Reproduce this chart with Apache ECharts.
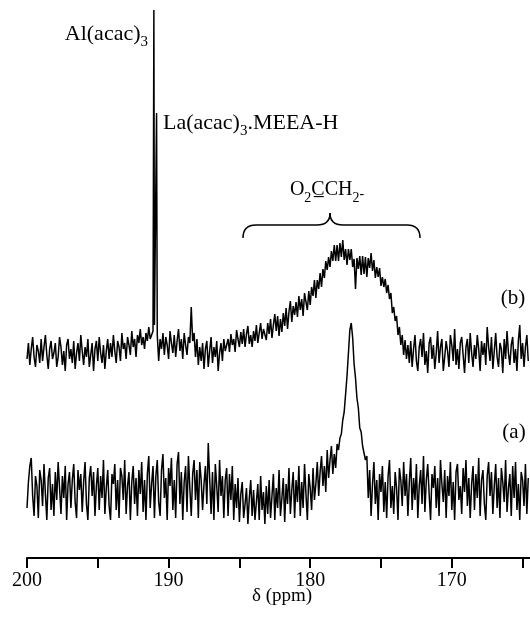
<!DOCTYPE html>
<html lang="en">
<head>
    <meta charset="utf-8">
    <title>13C NMR - O2CCH2 region</title>
    <script src="https://cdn.jsdelivr.net/npm/echarts/dist/echarts.min.js"></script>
    <style>
        html, body { margin: 0; padding: 0; background: #fff; }
        #chart { width: 530px; height: 627px; }
    </style>
</head>
<body>
    <div id="chart"></div>

    <script>
        // spectrum sampled every 0.1 ppm starting at 200 ppm
        var ppmStart = 200;
        var ppmStep = 0.1;

        // trace (b): intensity above its own baseline
        var traceB = [
            -6, 10, -12, 4, 16, -4, -14, 8, 2, -10, 14, -8, 6, 18, -2, -16, 4, 12, -6, 0,
            10, -14, -4, 16, 6, -12, 2, -18, 8, 14, -6, 4, -10, 12, -16, 0, 10, -8, 18, 2,
            -12, 6, -4, 14, -14, -2, 10, -18, 4, 12, -8, 16, 0, -10, 8, -16, 2, 14, -6, 10,
            -4, 18, 2, -10, 12, 6, -8, 20, 4, 10, -6, 16, 8, -2, 22, 6, 14, -4, 18, 10,
            24, 8, 16, 4, 20, 12, 26, 14, 18,
            22, 28, 30, 18,
            -8, 14, 4, 20, -2, 16, 8, -6, 22, 10, 0, 18, -4, 12, 24, 2, 14, -6, 20, 8,
            -2, 16, 10, 46, 12, 20, -4, 14, -12, 6, -8, 10, -16, 4, 12, -14, 2, 16, -10, 6,
            -4, 12, -18, 0, 10, -8, 14, 2, 8,
            // broad O2CCH2 hump
            14, 1, 19, 8, 14, 1, 23, 14, 6, 21, 9, 24, 6, 19, 27, 9, 18, 6,
            22, 12, 28, 10, 20, 30, 14, 24,
            26, 13, 30, 19, 34, 15, 28, 39, 22, 37, 17, 34,
            21, 40, 27, 45, 24, 41, 52, 31, 47, 38,
            51, 36, 57, 43, 54, 37, 60, 51, 43, 62,
            48, 66, 57, 73, 55, 73, 64, 80,
            66, 84, 75, 92, 83, 96,
            86, 102, 92, 108, 92, 108,
            92, 110, 96, 113, 93, 104,
            88, 104, 93, 104, 86, 94,
            64, 95, 84, 97, 78, 97,
            79, 96, 76, 95, 85, 100,
            82, 93, 75, 86,
            76, 85, 67, 76,
            66, 74, 60, 68,
            54, 60, 40, 46,
            32, 37, 18, 26,
            8, 18, -2, 13,
            -6, 8, -10,
            12, -14, 4, 18, -8, -18, 6, 14, -4, 20, -12, 2, -20, 10, 16, -6, 8, -16, 0, 22,
            -10, 6, 14, -18, -4, 12, 2, -14, 18, 8, -8, 24, -12, 4, -16, 10, 16, -2, -20, 6,
            14, -10, 20, 0, -14, 8, -6, 18, 4, -18, 12, -2, 10, -12, 26, 6, -8, 16, -16, 2,
            20, -4, -14, 10, 4, -20, 14, -6, 22, 0, -12, 8, 16, -10, 4, -18, 12, 28, -6, 10,
            -14, 6, 18, -8
        ];

        // sharp lines in (b): Al(acac)3 and La(acac)3.MEEA-H  [ppm, intensity]
        var sharpB = [[191.04, 343], [190.85, 240]];

        // trace (a)
        var traceA = [
            -18, 8, 24, 32, -6, -26, 14, 4, -28, 20, 10, -16, 26, -4, -30, 12, 22, -20, 6, -26,
            18, -10, 28, 2, -24, 14, -8, 24, -30, 6, 18, -18, 10, 26, -12, -28, 20, 0, 16, -22,
            8, 28, -14, -30, 12, 24, -6, 18, -26, 4, 22, -20, 14, -8, 30, -24, 2, 20, -16, -30,
            16, 6, 26, -20, 10, -28, 22, 14, -10, 30, -24, 4, 18, -30, 8, 24, -14, 12, -26, 20,
            -4, 28, -22, 10, -30, 16, 34, -18, 6, 24, -28, 14, 30, -12, -26, 20, 36, -8, 12, -30,
            22, 4, 32, -20, 10, -28, 26, 38, -14, 18, -30, 8, 24, -22, 34, 2, -26, 16, 30, -10,
            20, -28, 28, 10, -20, 6, 24, -14, 47, 12, -24, 18, -30, 26, 4, -22, 30, -6, 14, -28,
            10, 22,
            -26, 16, -10, 24, -30, 6, -18, 12, -32, -4, 8, -28, -14, 2, -34, -8, 10, -26, 0, -30,
            -12, 6, -30, 14, -20, -2, -34, 4, -24, 10, -28, -6, 16, -30, 2, -18, 20, -26, -8, 12,
            -32, 6, -14, 22, -24, 0, 18, -28, 10, -12, 24, -26, 8, -18, 26, -4, -30, 16, 2, -20,
            22, -10, 6,
            28, -6, 18, 34, 4, 24, -2, 40, 12, 30, 44, 16, 36, 22, 46,
            // O2CCH2 line
            40, 52, 56, 70, 78, 96, 114, 137, 160, 167, 152, 126, 112, 92, 82, 62, 58, 44, 46, 30, 34,
            -8, 20, -26, 6, 28, -14, 10, -30, 16, -2, 24, -22, 8, -28, 14, 30, -18, 4, -24, 18,
            2, -30, 22, 10, -16, 28, -6, 16, -26, 8, 32, -20, 12, -10, 26, -28, 4, 20, -14, 34,
            -22, 10, 26, -4, -30, 16, 2, 24, -18, 12, -26, 30, 6, -12, 20, -28, 14, -6, 28, -20,
            8, -30, 18, 26, -10, 4, -24, 22, -2, 30, -16, 12, -28, 6, 24, -20, 16, -8, 32, -26,
            10, 20, -14, -30, 14, 28, -6, 18, -24, 4, 26, -18, 12, -28, 22, 8, -12, 30, -22, 2,
            16, -26, 24, -8, 28, -20, 6, -30, 18, 10, -16, 26, -24, 12
        ];

        var tickLabels = [200, 190, 180, 170];

        // vertical offsets of the two stacked traces
        var offsetB = 205;
        var offsetA = 68;

        function buildTrace(vals, extra, offset) {
            var pts = [];
            for (var i = 0; i < vals.length; i++) {
                pts.push([+(ppmStart - ppmStep * i).toFixed(1), vals[i] + offset]);
            }
            for (var j = 0; j < extra.length; j++) {
                pts.push([extra[j][0], extra[j][1] + offset]);
            }
            pts.sort(function (p, q) { return q[0] - p[0]; });
            return pts;
        }

        var serif = '"Liberation Serif", "DejaVu Serif", serif';
        var braceStyle = { fill: 'none', stroke: '#000', lineWidth: 1.5 };

        function curve(x1, y1, cx, cy, x2, y2) {
            return { type: 'bezierCurve', shape: { x1: x1, y1: y1, cpx1: cx, cpy1: cy, x2: x2, y2: y2 }, style: braceStyle };
        }
        function seg(x1, y1, x2, y2) {
            return { type: 'line', shape: { x1: x1, y1: y1, x2: x2, y2: y2 }, style: braceStyle };
        }

        var myChart = echarts.init(document.getElementById('chart'));

        var option = {
            animation: false,
            backgroundColor: '#fff',
            // the axis runs past the right edge of the picture (165 ppm tick is near the edge)
            grid: { left: 27, top: 0, width: 566.4, bottom: 69, outerBoundsMode: 'none', containLabel: false },
            xAxis: {
                type: 'value',
                min: 160,
                max: 200,
                interval: 5,
                inverse: true,
                splitLine: { show: false },
                axisLine: { lineStyle: { color: '#000', width: 2 } },
                axisTick: { length: 10, lineStyle: { color: '#000', width: 2 } },
                axisLabel: {
                    margin: 13,
                    color: '#000',
                    fontFamily: serif,
                    fontSize: 20,
                    formatter: function (v) {
                        return tickLabels.indexOf(v) >= 0 ? String(v) : '';
                    }
                }
            },
            yAxis: {
                type: 'value',
                min: 0,
                max: 558,
                show: false
            },
            series: [
                {
                    name: 'b',
                    type: 'line',
                    showSymbol: false,
                    symbol: 'none',
                    lineStyle: { color: '#000', width: 1.5 },
                    data: buildTrace(traceB, sharpB, offsetB)
                },
                {
                    name: 'a',
                    type: 'line',
                    showSymbol: false,
                    symbol: 'none',
                    lineStyle: { color: '#000', width: 1.5 },
                    data: buildTrace(traceA, [], offsetA)
                }
            ],
            graphic: [
                {
                    type: 'text', x: 148, y: 34,
                    style: {
                        text: '{m|Al(acac)}{s|3}',
                        align: 'right', verticalAlign: 'middle', fill: '#000',
                        rich: {
                            m: { fontFamily: serif, fontSize: 22, lineHeight: 22 },
                            s: { fontFamily: serif, fontSize: 15, lineHeight: 15, padding: [17, 0, 0, 0] }
                        }
                    }
                },
                {
                    type: 'text', x: 163, y: 123,
                    style: {
                        text: '{m|La(acac)}{s|3}{m|.MEEA-H}',
                        align: 'left', verticalAlign: 'middle', fill: '#000',
                        rich: {
                            m: { fontFamily: serif, fontSize: 22, lineHeight: 22 },
                            s: { fontFamily: serif, fontSize: 15, lineHeight: 15, padding: [17, 0, 0, 0] }
                        }
                    }
                },
                {
                    type: 'text', x: 327, y: 190,
                    style: {
                        text: '{m|O}{s|2}{m|C\u0332CH}{s|2}{t|-}',
                        align: 'center', verticalAlign: 'middle', fill: '#000',
                        rich: {
                            m: { fontFamily: serif, fontSize: 20, lineHeight: 20 },
                            s: { fontFamily: serif, fontSize: 14, lineHeight: 14, padding: [16, 0, 0, 0] },
                            t: { fontFamily: serif, fontSize: 14, lineHeight: 14, padding: [8, 0, 0, 0] }
                        }
                    }
                },
                // brace over the O2CCH2 region
                curve(243, 238, 243, 225, 256, 225),
                seg(256, 225, 317, 225),
                curve(317, 225, 330, 225, 330, 213),
                curve(330, 213, 330, 225, 343, 225),
                seg(343, 225, 407, 225),
                curve(407, 225, 420, 225, 420, 238),
                {
                    type: 'text', x: 513, y: 298,
                    style: { text: '(b)', font: '21px ' + serif, align: 'center', verticalAlign: 'middle', fill: '#000' }
                },
                {
                    type: 'text', x: 514, y: 432,
                    style: { text: '(a)', font: '21px ' + serif, align: 'center', verticalAlign: 'middle', fill: '#000' }
                },
                {
                    type: 'text', x: 282, y: 596,
                    style: { text: 'δ (ppm)', font: '19px ' + serif, align: 'center', verticalAlign: 'middle', fill: '#000' }
                }
            ]
        };

        myChart.setOption(option);
    </script>
</body>
</html>
